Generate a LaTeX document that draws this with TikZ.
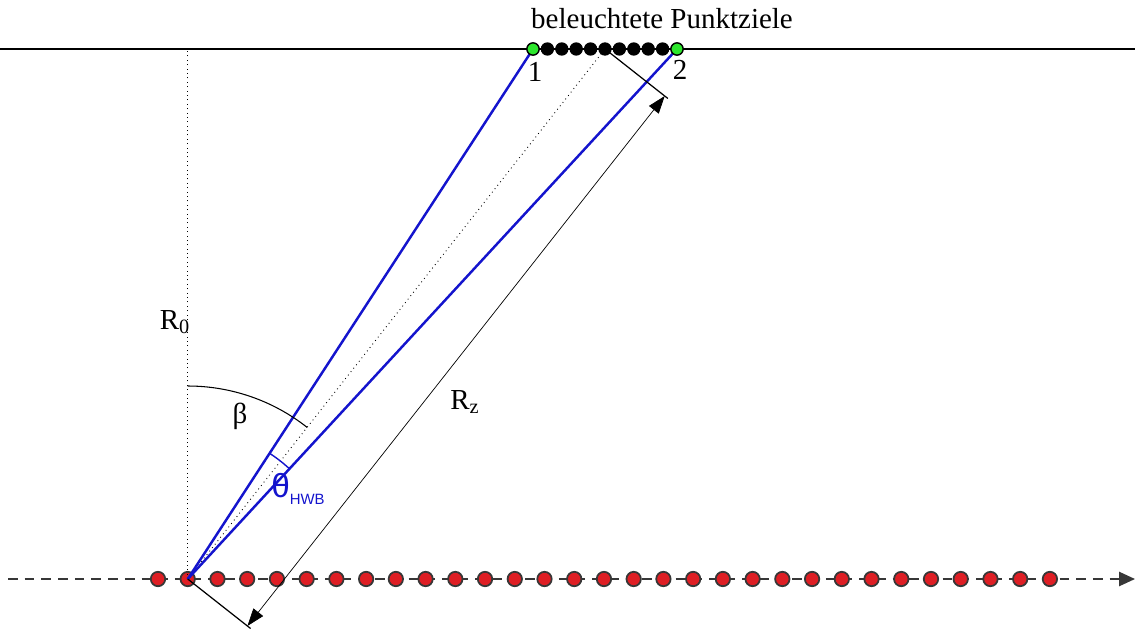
\documentclass[tikz,border=0pt]{standalone}
\usepackage{fontspec}
\setmainfont{Liberation Serif}
\newfontfamily\thetafont{Liberation Sans}
\usetikzlibrary{arrows.meta,calc}
\begin{document}
\begin{tikzpicture}[x=0.02cm,y=-0.02cm,font=\fontsize{16.5}{19}\selectfont,>={Triangle[length=10pt,width=7pt]}]
  \definecolor{beam}{RGB}{20,20,205}
  \definecolor{track}{RGB}{55,55,55}
  \definecolor{posred}{RGB}{222,30,36}
  \definecolor{tgtgreen}{RGB}{45,230,45}
  \tikzset{antpos/.style={circle,draw=track,line width=1pt,fill=posred,minimum size=8.2pt,inner sep=0pt},
    target/.style={circle,draw=black,line width=0.8pt,fill=tgtgreen,minimum size=7pt,inner sep=0pt},
    scatterer/.style={circle,fill=black,minimum size=7.6pt,inner sep=0pt},
    beamline/.style={beam,line width=1.4pt},
    extline/.style={line width=0.7pt},
    label/.style={inner sep=0pt}}
  \useasboundingbox (0,0) rectangle (1135,632);
  \coordinate (gl) at (0,49);
  \coordinate (gr) at (1135,49);
  \coordinate (t1) at (533,49);
  \coordinate (t2) at (677,49);
  \coordinate (tc) at (605,49);
  \coordinate (trackstart) at (8,579);
  \coordinate (trackend) at (1135,579);
  \draw[line width=0.6pt] (gl) -- (gr);
  \draw[track,line width=1.1pt,dash pattern=on 5.5pt off 4pt,-{Triangle[length=9pt,width=8pt]}] (trackstart) -- (trackend);
  \foreach \i in {0,...,30}
    \node[antpos] (a\i) at ({158+29.73*\i},579) {};
  \draw[dotted,line width=0.5pt] (a1.center) -- (a1.center |- tc);
  \draw[dotted,line width=0.5pt] (a1.center) -- (tc);
  \draw[beamline] (a1.center) -- (t1);
  \draw[beamline] (a1.center) -- (t2);
  \coordinate (e1) at ($(a1.center)!1.6cm!-90:(tc)$);
  \coordinate (e2) at ($(tc)!1.6cm!90:(a1.center)$);
  \coordinate (m1) at ($(a1.center)!1.52cm!-90:(tc)$);
  \coordinate (m2) at ($(tc)!1.52cm!90:(a1.center)$);
  \draw[extline] (a1.center) -- (e1);
  \draw[extline] (tc) -- (e2);
  \draw[<->,line width=0.4pt] (m1) -- (m2);
  \draw[line width=0.6pt] (a1.center) ++(0,-193) arc[start angle=-90,end angle=-51.8,radius=193];
  \draw[beam,line width=0.8pt] (a1.center) ++(-56.94:150) arc[start angle=-56.94,end angle=-47.3,radius=150];
  \node[target] (p1) at (t1) {};
  \node[target] (p2) at (t2) {};
  \foreach \k in {1,...,9}
    \node[scatterer] (d\k) at ({533+14.4*\k},49) {};
  \node[label] (title) at (662,19) {beleuchtete Punktziele};
  \node[label] (n1) at (535,72) {1};
  \node[label] (n2) at (680,70) {2};
  \node[label] (r0) at (175,322) {R\textsubscript{0}};
  \node[label] (rz) at (465,402) {R\textsubscript{z}};
  \node[label] (beta) at (240,416) {β};
  \node[label,beam] (theta) at (298,489) {\thetafont\fontsize{19}{21}\selectfont θ\raisebox{-4pt}{\fontsize{8.5}{9}\selectfont HWB}};
\end{tikzpicture}
\end{document}
